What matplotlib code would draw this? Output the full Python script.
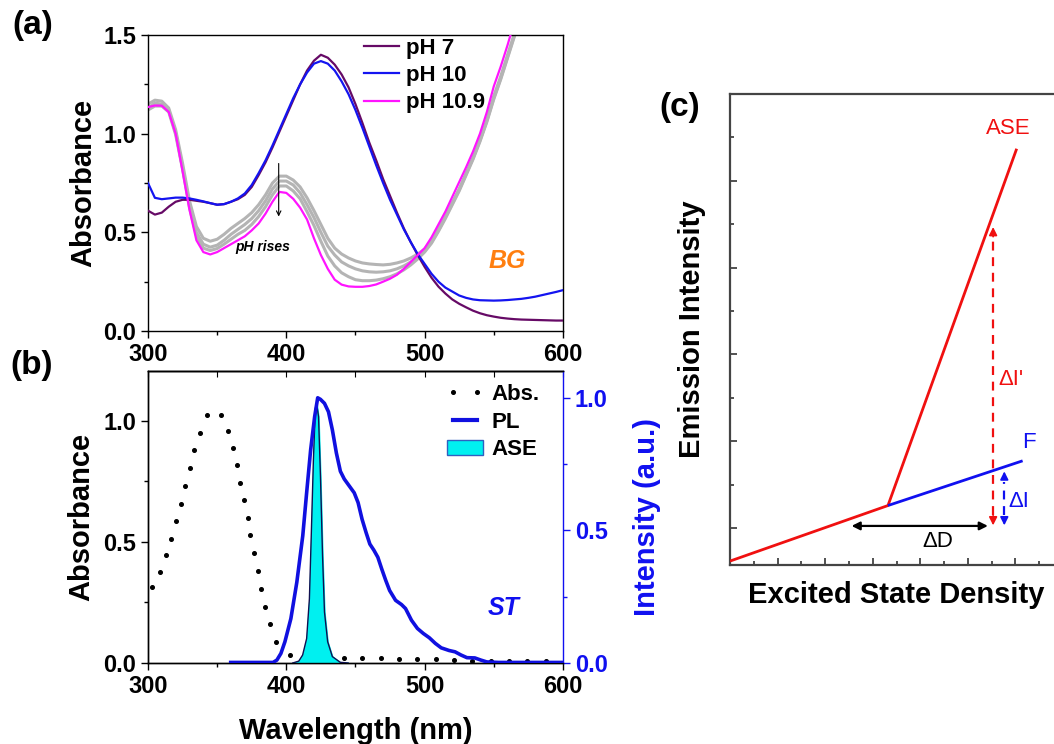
import matplotlib
matplotlib.use('Agg')
import matplotlib.pyplot as plt
from matplotlib.lines import Line2D
from matplotlib.patches import Patch
from matplotlib.ticker import MultipleLocator, NullFormatter

plt.rcParams['font.family'] = ['Liberation Sans', 'DejaVu Sans']

# ---------------- Panel (a) data ----------------
wl_a = [300, 305, 310, 315, 320, 325, 330, 335, 340, 345, 350, 355, 360, 365, 370, 375,
        380, 385, 390, 395, 400, 405, 410, 415, 420, 425, 430, 435, 440, 445, 450, 455,
        460, 465, 470, 475, 480, 485, 490, 495, 500, 505, 510, 515, 520, 525, 530, 535,
        540, 545, 550, 555, 560, 565, 570, 575, 580, 585, 590, 595, 600]
abs_ph7 = [0.61, 0.59, 0.60, 0.63, 0.655, 0.665, 0.665, 0.66, 0.655, 0.648, 0.64, 0.643,
           0.655, 0.668, 0.69, 0.73, 0.79, 0.855, 0.93, 1.01, 1.09, 1.17, 1.25, 1.32,
           1.37, 1.40, 1.385, 1.35, 1.30, 1.235, 1.15, 1.055, 0.955, 0.865, 0.77, 0.685,
           0.60, 0.52, 0.45, 0.385, 0.325, 0.27, 0.225, 0.19, 0.16, 0.138, 0.12, 0.103,
           0.09, 0.08, 0.073, 0.067, 0.063, 0.06, 0.058, 0.057, 0.056, 0.055, 0.054, 0.053,
           0.053]
abs_ph10 = [0.75, 0.675, 0.668, 0.672, 0.676, 0.676, 0.672, 0.665, 0.657, 0.648, 0.64,
            0.643, 0.655, 0.672, 0.697, 0.74, 0.80, 0.865, 0.94, 1.02, 1.10, 1.18, 1.25,
            1.31, 1.355, 1.368, 1.355, 1.32, 1.265, 1.20, 1.12, 1.03, 0.935, 0.84, 0.75,
            0.665, 0.59, 0.515, 0.45, 0.39, 0.34, 0.29, 0.25, 0.22, 0.20, 0.18, 0.168,
            0.16, 0.156, 0.155, 0.154, 0.155, 0.157, 0.16, 0.163, 0.168, 0.174, 0.182,
            0.19, 0.198, 0.207]
wl_a2 = wl_a[:55]
abs_ph109 = [1.135, 1.143, 1.142, 1.11, 1.0, 0.81, 0.615, 0.46, 0.40, 0.388, 0.40, 0.42,
             0.44, 0.46, 0.48, 0.51, 0.545, 0.595, 0.655, 0.705, 0.70, 0.67, 0.625, 0.565,
             0.47, 0.385, 0.315, 0.26, 0.235, 0.226, 0.224, 0.224, 0.228, 0.236, 0.25,
             0.265, 0.285, 0.315, 0.35, 0.385, 0.42, 0.475, 0.54, 0.605, 0.68, 0.755, 0.83,
             0.91, 1.0, 1.11, 1.24, 1.34, 1.45, 1.57, 1.70]
abs_grey1 = [1.15, 1.17, 1.165, 1.13, 1.02, 0.85, 0.66, 0.53, 0.47, 0.455, 0.465, 0.49,
             0.52, 0.545, 0.57, 0.60, 0.64, 0.69, 0.75, 0.785, 0.785, 0.765, 0.73, 0.675,
             0.61, 0.54, 0.47, 0.42, 0.39, 0.37, 0.355, 0.345, 0.34, 0.337, 0.335, 0.338,
             0.345, 0.355, 0.37, 0.39, 0.415, 0.46, 0.52, 0.58, 0.65, 0.72, 0.80, 0.88,
             0.97, 1.07, 1.19, 1.29, 1.40, 1.51, 1.63]
abs_grey2 = [1.13, 1.155, 1.15, 1.12, 1.005, 0.83, 0.64, 0.50, 0.44, 0.425, 0.435, 0.46,
             0.49, 0.515, 0.54, 0.57, 0.61, 0.66, 0.72, 0.76, 0.76, 0.74, 0.70, 0.64,
             0.575, 0.50, 0.43, 0.385, 0.35, 0.33, 0.315, 0.305, 0.30, 0.298, 0.30, 0.305,
             0.315, 0.33, 0.35, 0.375, 0.405, 0.45, 0.51, 0.575, 0.645, 0.715, 0.795,
             0.875, 0.965, 1.065, 1.18, 1.28, 1.39, 1.50, 1.62]
abs_grey3 = [1.12, 1.14, 1.14, 1.11, 0.995, 0.82, 0.625, 0.485, 0.42, 0.408, 0.418, 0.44,
             0.465, 0.49, 0.51, 0.54, 0.58, 0.63, 0.69, 0.735, 0.735, 0.71, 0.67, 0.605,
             0.535, 0.455, 0.38, 0.33, 0.295, 0.275, 0.26, 0.255, 0.255, 0.258, 0.265,
             0.275, 0.29, 0.31, 0.335, 0.365, 0.40, 0.445, 0.505, 0.57, 0.64, 0.71, 0.79,
             0.87, 0.96, 1.06, 1.175, 1.275, 1.385, 1.495, 1.615]
legend_a = ['pH 7', 'pH 10', 'pH 10.9']

# ---------------- Panel (b) data ----------------
wl_abs_b = [302.9, 308.9, 313.2, 316.9, 320.6, 324.0, 326.9, 330.3, 333.2, 337.8, 342.6,
            352.6, 357.8, 361.5, 364.3, 366.6, 369.2, 372.1, 373.8, 376.9, 379.2, 381.8,
            384.7, 388.1, 392.7, 402.7, 415.8, 428.9, 441.9, 455.0, 468.2, 481.6, 494.8,
            507.9, 521.1, 534.5, 547.7, 561.2, 574.3, 587.5]
abs_b = [0.312, 0.376, 0.444, 0.513, 0.585, 0.658, 0.731, 0.804, 0.879, 0.951, 1.022,
         1.022, 0.958, 0.887, 0.815, 0.744, 0.672, 0.600, 0.527, 0.453, 0.380, 0.307,
         0.233, 0.159, 0.087, 0.033, 0.027, 0.024, 0.022, 0.020, 0.020, 0.016, 0.016,
         0.015, 0.012, 0.010, 0.010, 0.008, 0.007, 0.007]
wl_pl = [359.8, 390.4, 393.2, 396.1, 399.0, 403.3, 407.6, 411.9, 414.7, 417.6, 420.5, 422.7,
         424.7, 427.6, 430.5, 433.3, 436.2, 439.1, 441.9, 444.8, 449.1, 451.9, 454.8, 457.7,
         460.4, 463.3, 466.2, 469.0, 471.9, 474.7, 479.0, 483.3, 486.2, 490.5, 494.8, 499.1,
         503.4, 507.7, 512.0, 517.7, 522.0, 526.3, 530.6, 536.3, 540.6, 544.9, 553.5, 600.0]
pl = [0.002, 0.002, 0.011, 0.036, 0.080, 0.167, 0.304, 0.479, 0.641, 0.803, 0.928, 0.999,
      0.993, 0.978, 0.946, 0.878, 0.791, 0.722, 0.693, 0.672, 0.641, 0.604, 0.541, 0.491,
      0.448, 0.425, 0.398, 0.354, 0.311, 0.273, 0.236, 0.220, 0.205, 0.161, 0.130, 0.111,
      0.095, 0.074, 0.057, 0.047, 0.042, 0.030, 0.020, 0.019, 0.011, 0.004, 0.002, 0.002]
wl_ase = [404.7, 409.0, 411.8, 414.7, 416.7, 418.1, 419.6, 421.0, 421.9, 423.3, 424.7,
          426.2, 427.6, 429.9, 433.3, 439.0, 444.7]
ase = [0.0, 0.007, 0.030, 0.092, 0.242, 0.491, 0.766, 0.959, 0.978, 0.928, 0.703,
       0.404, 0.192, 0.080, 0.024, 0.0025, 0.0]
legend_b = ['Abs.', 'PL', 'ASE']

# ---------------- Panel (c) data (schematic) ----------------
c_ase_x = [0.0, 6.64, 12.05]
c_ase_y = [-0.76, 0.52, 8.74]
c_f_x = [6.64, 12.3]
c_f_y = [0.52, 1.55]
dI_prime = (11.06, 0.0, 7.0)    # x, y0, y1
dI = (11.53, 0.0, 1.37)
dD = (5.11, 10.84, 0.05)        # x0, x1, y

# ---------------- Figure ----------------
fig = plt.figure(figsize=(10.54, 7.44), dpi=100)
BOLD = dict(fontweight='bold')
TICKFS = 17
LABFS = 21

def style_ticks(ax):
    for lab in ax.get_xticklabels() + ax.get_yticklabels():
        lab.set_fontweight('bold')
        lab.set_fontsize(TICKFS)

# ---- (a)
axa = fig.add_axes([0.1404, 0.5551, 0.3937, 0.3978])
for g in (abs_grey1, abs_grey2, abs_grey3):
    axa.plot(wl_a2, g, color='#b4b4b4', lw=2.2, zorder=2)
la1, = axa.plot(wl_a, abs_ph7, color='#660a66', lw=1.6, zorder=3)
la2, = axa.plot(wl_a, abs_ph10, color='#1414f0', lw=1.6, zorder=3)
la3, = axa.plot(wl_a2, abs_ph109, color='#ff14ff', lw=1.6, zorder=3)
axa.set_xlim(300, 600)
axa.set_ylim(0, 1.5)
axa.xaxis.set_major_locator(MultipleLocator(100))
axa.xaxis.set_minor_locator(MultipleLocator(50))
axa.yaxis.set_major_locator(MultipleLocator(0.5))
axa.yaxis.set_minor_locator(MultipleLocator(0.25))
axa.tick_params(which='major', direction='out', length=5, width=1)
axa.tick_params(which='minor', direction='out', length=3, width=1)
axa.set_yticks([0.0, 0.5, 1.0, 1.5])
axa.set_yticklabels(['0.0', '0.5', '1.0', '1.5'])
style_ticks(axa)
axa.set_ylabel('Absorbance', fontsize=LABFS, labelpad=4, **BOLD)
axa.legend([la1, la2, la3], legend_a, loc='upper left', bbox_to_anchor=(0.52, 0.99),
           frameon=False, borderpad=0, borderaxespad=0, handlelength=1.6,
           handletextpad=0.3, labelspacing=0.28, prop=dict(weight='bold', size=16))
axa.annotate('', xy=(394.5, 0.566), xytext=(394.5, 0.863),
             arrowprops=dict(arrowstyle='->', lw=0.8, color='black', mutation_scale=8))
axa.text(383, 0.425, 'pH rises', fontsize=10, fontweight='bold', fontstyle='italic',
         ha='center', va='center')
axa.text(559.5, 0.357, 'BG', fontsize=18, fontweight='bold', fontstyle='italic',
         color='#ff7f10', ha='center', va='center')
for s in axa.spines.values():
    s.set_linewidth(1.0)

# ---- (b)
axb = fig.add_axes([0.1404, 0.1089, 0.3937, 0.3925])
axb2 = axb.twinx()
axb.plot(wl_abs_b, abs_b, ls='none', marker='o', ms=2.6, color='black', zorder=1)
axb2.fill_between(wl_ase, 0, ase, color='#00f0f0', zorder=2)
axb2.plot(wl_ase, ase, color='#101050', lw=1.0, zorder=3)
axb2.plot(wl_pl, pl, color='#1010e0', lw=2.6, zorder=4)
axb.set_xlim(300, 600)
axb.set_ylim(0, 1.205)
axb2.set_ylim(0, 1.1)
axb.xaxis.set_major_locator(MultipleLocator(100))
axb.xaxis.set_minor_locator(MultipleLocator(50))
axb.yaxis.set_major_locator(MultipleLocator(0.5))
axb.yaxis.set_minor_locator(MultipleLocator(0.25))
axb2.yaxis.set_major_locator(MultipleLocator(0.5))
axb2.yaxis.set_minor_locator(MultipleLocator(0.25))
axb.tick_params(which='major', direction='out', length=5, width=1)
axb.tick_params(which='minor', direction='out', length=3, width=1)
axb2.tick_params(which='major', direction='out', length=5, width=1, colors='#1010f0')
axb2.tick_params(which='minor', direction='out', length=3, width=1, colors='#1010f0')
axb.set_yticks([0.0, 0.5, 1.0])
axb.set_yticklabels(['0.0', '0.5', '1.0'])
axb2.set_yticks([0.0, 0.5, 1.0])
axb2.set_yticklabels(['0.0', '0.5', '1.0'])
style_ticks(axb)
style_ticks(axb2)
axb.spines['right'].set_visible(False)
axb2.spines['right'].set_color('#1010f0')
for s in list(axb.spines.values()) + list(axb2.spines.values()):
    s.set_linewidth(1.0)
sec = axb.secondary_xaxis('top')
sec.xaxis.set_major_locator(MultipleLocator(50))
sec.tick_params(direction='in', length=4, labeltop=False)
sec.spines['top'].set_linewidth(1.0)
axb.set_ylabel('Absorbance', fontsize=LABFS, labelpad=6, **BOLD)
axb2.set_ylabel('Intensity (a.u.)', fontsize=LABFS, labelpad=18, color='#1010f0', **BOLD)
axb.set_xlabel('Wavelength (nm)', fontsize=LABFS, labelpad=14, **BOLD)
h_abs = Line2D([], [], ls='none', marker='o', ms=2.6, color='black')
h_pl = Line2D([], [], color='#1010e0', lw=3)
h_ase = Patch(facecolor='#00f0f0', edgecolor='#3060c0')
axb2.legend([h_abs, h_pl, h_ase], legend_b, loc='upper left', bbox_to_anchor=(0.72, 0.955),
            frameon=False, borderpad=0, borderaxespad=0, handlelength=1.65,
            handletextpad=0.35, labelspacing=0.3, numpoints=2,
            prop=dict(weight='bold', size=16))
axb2.text(556.8, 0.207, 'ST', fontsize=18, fontweight='bold', fontstyle='italic',
          color='#1010f0', ha='center', va='center')

# ---- (c)
axc = fig.add_axes([0.6926, 0.2406, 0.316, 0.633])
axc.plot(c_ase_x, c_ase_y, color='#f01010', lw=2.0, zorder=3, solid_capstyle='butt')
axc.plot(c_f_x, c_f_y, color='#1010f0', lw=2.0, zorder=4, solid_capstyle='butt')
axc.set_xlim(0, 14)
axc.set_ylim(-0.85, 10.0)
axc.xaxis.set_major_locator(MultipleLocator(2))
axc.xaxis.set_minor_locator(MultipleLocator(1))
axc.yaxis.set_major_locator(MultipleLocator(2))
axc.yaxis.set_minor_locator(MultipleLocator(1))
axc.xaxis.set_major_formatter(NullFormatter())
axc.yaxis.set_major_formatter(NullFormatter())
axc.tick_params(which='major', direction='in', length=5, width=1.2, color='#333333')
axc.tick_params(which='minor', direction='in', length=3, width=1.2, color='#333333')
for s in axc.spines.values():
    s.set_linewidth(1.6)
    s.set_color('#444444')
# dashed arrows
x, y0, y1 = dI_prime
axc.plot([x, x], [y0 + 0.3, y1 - 0.3], color='#f01010', lw=1.6, ls=(0, (4, 3)))
axc.annotate('', xy=(x, y1), xytext=(x, y1 - 0.35),
             arrowprops=dict(arrowstyle='-|>', color='#f01010', lw=1.2, mutation_scale=12))
axc.annotate('', xy=(x, y0), xytext=(x, y0 + 0.35),
             arrowprops=dict(arrowstyle='-|>', color='#f01010', lw=1.2, mutation_scale=12))
x, y0, y1 = dI
axc.plot([x, x], [y0 + 0.3, y1 - 0.3], color='#1010f0', lw=1.6, ls=(0, (4, 3)))
axc.annotate('', xy=(x, y1), xytext=(x, y1 - 0.3),
             arrowprops=dict(arrowstyle='-|>', color='#1010f0', lw=1.2, mutation_scale=12))
axc.annotate('', xy=(x, y0), xytext=(x, y0 + 0.3),
             arrowprops=dict(arrowstyle='-|>', color='#1010f0', lw=1.2, mutation_scale=12))
x0, x1, yd = dD
axc.annotate('', xy=(x1, yd), xytext=(x0, yd),
             arrowprops=dict(arrowstyle='<|-|>', color='black', lw=1.6, mutation_scale=12,
                             shrinkA=0, shrinkB=0))
axc.text(8.74, -0.32, '\u0394D', fontsize=16, ha='center', va='center')
axc.text(11.28, 3.43, "\u0394I'", fontsize=16, color='#f01010', ha='left', va='center')
axc.text(11.72, 0.62, '\u0394I', fontsize=16, color='#1010f0', ha='left', va='center')
axc.text(12.56, 1.98, 'F', fontsize=16, color='#1010f0', ha='center', va='center')
axc.text(11.7, 9.2, 'ASE', fontsize=16, color='#f01010', ha='center', va='center')
axc.set_ylabel('Emission Intensity', fontsize=LABFS, labelpad=14, **BOLD)
axc.set_xlabel('Excited State Density', fontsize=LABFS, **BOLD)
axc.xaxis.set_label_coords(0.5, -0.035)

# panel labels
fig.text(0.031, 0.966, '(a)', fontsize=24, fontweight='bold', ha='center', va='center')
fig.text(0.030, 0.509, '(b)', fontsize=24, fontweight='bold', ha='center', va='center')
fig.text(0.645, 0.856, '(c)', fontsize=24, fontweight='bold', ha='center', va='center')

fig.savefig('out.png', dpi=100)
